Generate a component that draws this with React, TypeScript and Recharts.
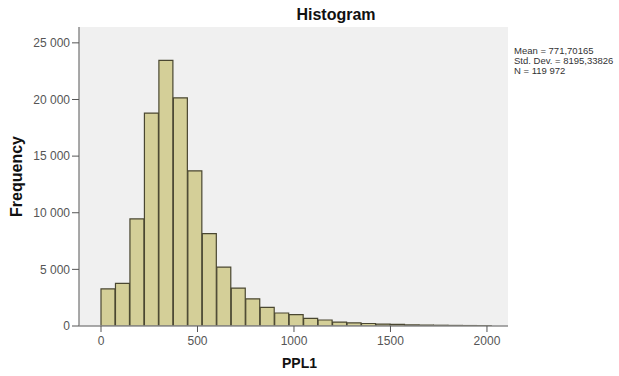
import React from "react";
import { BarChart, Bar, XAxis, YAxis, CartesianGrid, Label } from "recharts";

// histogram bins of PPL1, 75 wide starting at 0
const BIN_START = 0;
const BIN_WIDTH = 75;
const counts = [
  3270, 3770, 9450, 18800, 23450, 20150, 13700, 8150, 5200, 3350, 2400, 1650, 1150, 1000,
  680, 530, 350, 270, 220, 170, 140, 100, 80, 65, 50, 40, 30,
];
const xTicks = [0, 500, 1000, 1500, 2000];
const yTicks = [0, 5000, 10000, 15000, 20000, 25000];
const statsLines = ["Mean = 771,70165", "Std. Dev. = 8195,33826", "N = 119 972"];

const data = counts.map((c, i) => ({ x: BIN_START + (i + 0.5) * BIN_WIDTH, count: c }));

const fmtThousands = (v: number) =>
  v < 1000 ? String(v) : `${Math.floor(v / 1000)} ${String(v % 1000).padStart(3, "0")}`;

const border = "#8c8c8c";
const tickStyle = { fill: "#555", fontSize: 12 };

export default function App() {
  return (
    <div
      style={{
        position: "absolute",
        left: 0,
        top: 0,
        width: 619,
        height: 376,
        background: "#fff",
        fontFamily: "'Liberation Sans', Arial, sans-serif",
      }}
    >
      <BarChart
        width={619}
        height={376}
        data={data}
        margin={{ top: 27, right: 111, left: 0, bottom: 0 }}
        barCategoryGap={0}
        barGap={0}
      >
        <CartesianGrid fill="#f0f0f0" horizontal={false} vertical={false} />
        <XAxis
          dataKey="x"
          type="number"
          domain={[-114, 2109]}
          allowDataOverflow
          ticks={xTicks}
          height={50}
          tickSize={6}
          tickMargin={4}
          tick={tickStyle}
          tickLine={{ stroke: "#555" }}
          axisLine={{ stroke: border, strokeWidth: 1.5 }}
        >
          <Label
            value="PPL1"
            position="center"
            dx={6}
            dy={12}
            style={{ fontSize: 14, fontWeight: "bold", fill: "#111" }}
          />
        </XAxis>
        <XAxis
          xAxisId="top"
          orientation="top"
          type="number"
          domain={[-114, 2109]}
          height={0}
          tick={false}
          tickLine={false}
          axisLine={{ stroke: border, strokeWidth: 1.5 }}
        />
        <YAxis
          type="number"
          domain={[0, 26400]}
          allowDataOverflow
          ticks={yTicks}
          width={79}
          tickSize={7}
          tickMargin={2}
          tickFormatter={fmtThousands}
          tick={tickStyle}
          tickLine={{ stroke: "#555" }}
          axisLine={{ stroke: border, strokeWidth: 1.5 }}
        >
          <Label
            value="Frequency"
            angle={-90}
            position="center"
            dx={-23}
            style={{ fontSize: 16, fontWeight: "bold", fill: "#111", textAnchor: "middle" }}
          />
        </YAxis>
        <YAxis
          yAxisId="right"
          orientation="right"
          width={0}
          tick={false}
          tickLine={false}
          axisLine={{ stroke: border, strokeWidth: 1.5 }}
        />
        <Bar
          dataKey="count"
          fill="#d4cf98"
          stroke="#4a4731"
          strokeWidth={1.2}
          isAnimationActive={false}
        />
      </BarChart>
      <div
        style={{
          position: "absolute",
          left: 0,
          width: 672,
          top: 6,
          textAlign: "center",
          fontSize: 16,
          fontWeight: "bold",
          color: "#111",
        }}
      >
        Histogram
      </div>
      <div
        style={{
          position: "absolute",
          left: 514,
          top: 46,
          fontSize: 9.5,
          lineHeight: "10px",
          color: "#333",
          whiteSpace: "nowrap",
        }}
      >
        {statsLines.map((s) => (
          <div key={s}>{s}</div>
        ))}
      </div>
    </div>
  );
}
